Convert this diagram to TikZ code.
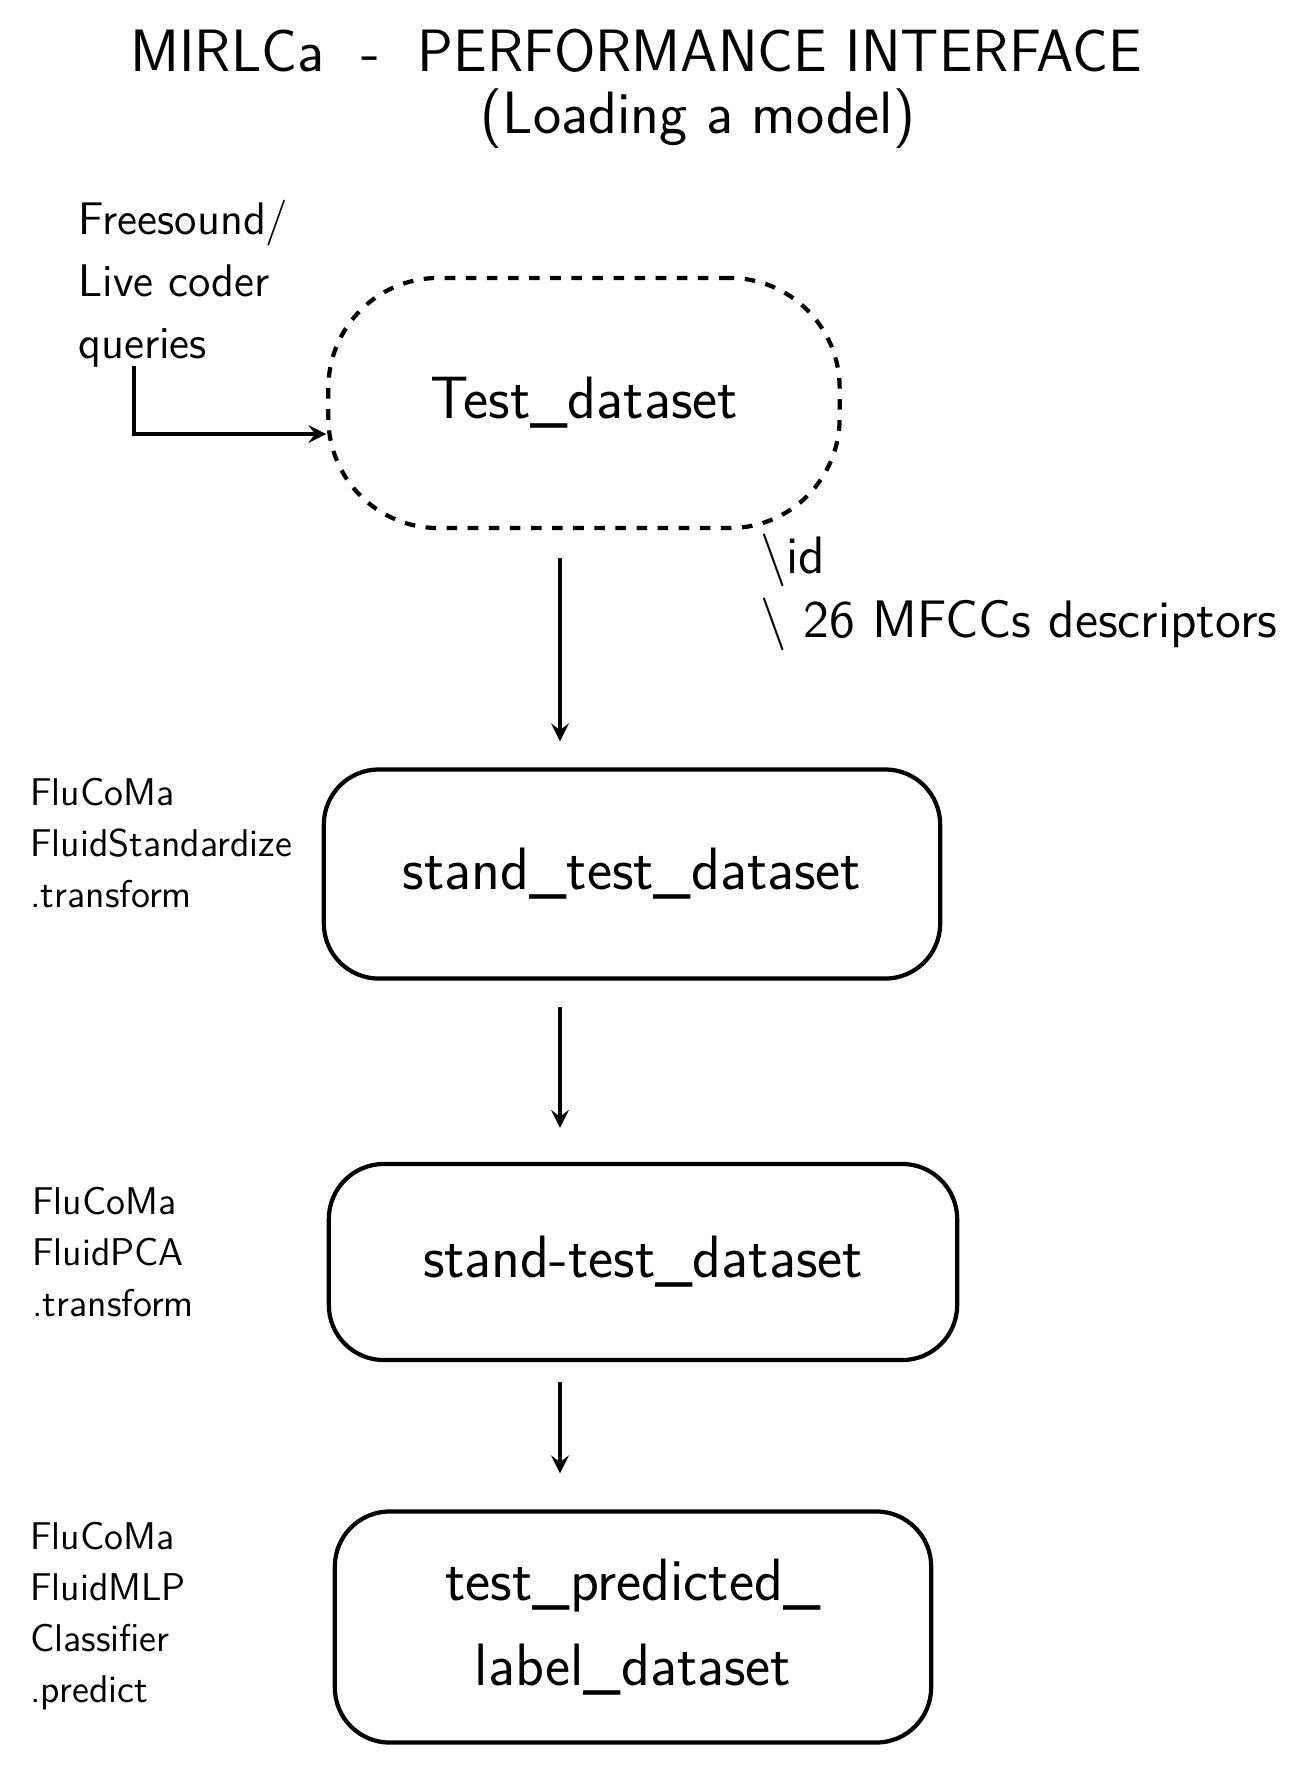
\documentclass[tikz,border=0pt]{standalone}
\begin{document}
\begin{tikzpicture}[
  x=0.01cm,y=-0.01cm,
  stepbox/.style={draw, very thick, rounded corners=0.55cm, align=center, font=\sffamily\fontsize{17}{24}\selectfont},
  note/.style={anchor=north west, align=left, font=\sffamily\fontsize{11}{14.5}\selectfont},
  flow/.style={->, very thick, >=stealth}
]
\useasboundingbox (0,0) rectangle (1307,1781);

\node[font=\sffamily\fontsize{17}{20}\selectfont] (title) at (636,51) {MIRLCa \ - \ PERFORMANCE INTERFACE};
\node[font=\sffamily\fontsize{17}{20}\selectfont] (subtitle) at (698,119) {(Loading a model)};

\node[stepbox, dashed, rounded corners=1.1cm, minimum width=5.11cm, minimum height=2.5cm] (cloud) at (584,403) {Test\_dataset};
\node[stepbox, minimum width=6.16cm, minimum height=2.09cm] (stand) at (632,874) {stand\_test\_dataset};
\node[stepbox, minimum width=6.28cm, minimum height=1.96cm] (pca) at (643,1262) {stand-test\_dataset};
\node[stepbox, minimum width=5.96cm, minimum height=2.31cm] (pred) at (633,1627) {test\_predicted\_\\label\_dataset};

\node[note, font=\sffamily\fontsize{13}{17.6}\selectfont] (queries) at (66,188) {Freesound/\\Live coder\\queries};
\node[note, font=\sffamily\fontsize{15}{18}\selectfont] (desc) at (748,522) {\textbackslash id\\\textbackslash\ 26 MFCCs descriptors};
\node[note] (standlbl) at (18,766) {FluCoMa\\FluidStandardize\\.transform};
\node[note] (pcalbl) at (20,1175) {FluCoMa\\FluidPCA\\.transform};
\node[note] (predlbl) at (18,1510) {FluCoMa\\FluidMLP\\Classifier\\.predict};

\coordinate (qin) at (134,366);
\coordinate (spine) at (560,0);
\draw[flow] (qin) |- ([yshift=-0.31cm]cloud.west);
\draw[flow, shorten <=0.28cm, shorten >=0.26cm] (cloud.south -| spine) -- (stand.north -| spine);
\draw[flow, shorten <=0.26cm, shorten >=0.34cm] (stand.south -| spine) -- (pca.north -| spine);
\draw[flow, shorten <=0.2cm, shorten >=0.36cm] (pca.south -| spine) -- (pred.north -| spine);
\end{tikzpicture}
\end{document}
